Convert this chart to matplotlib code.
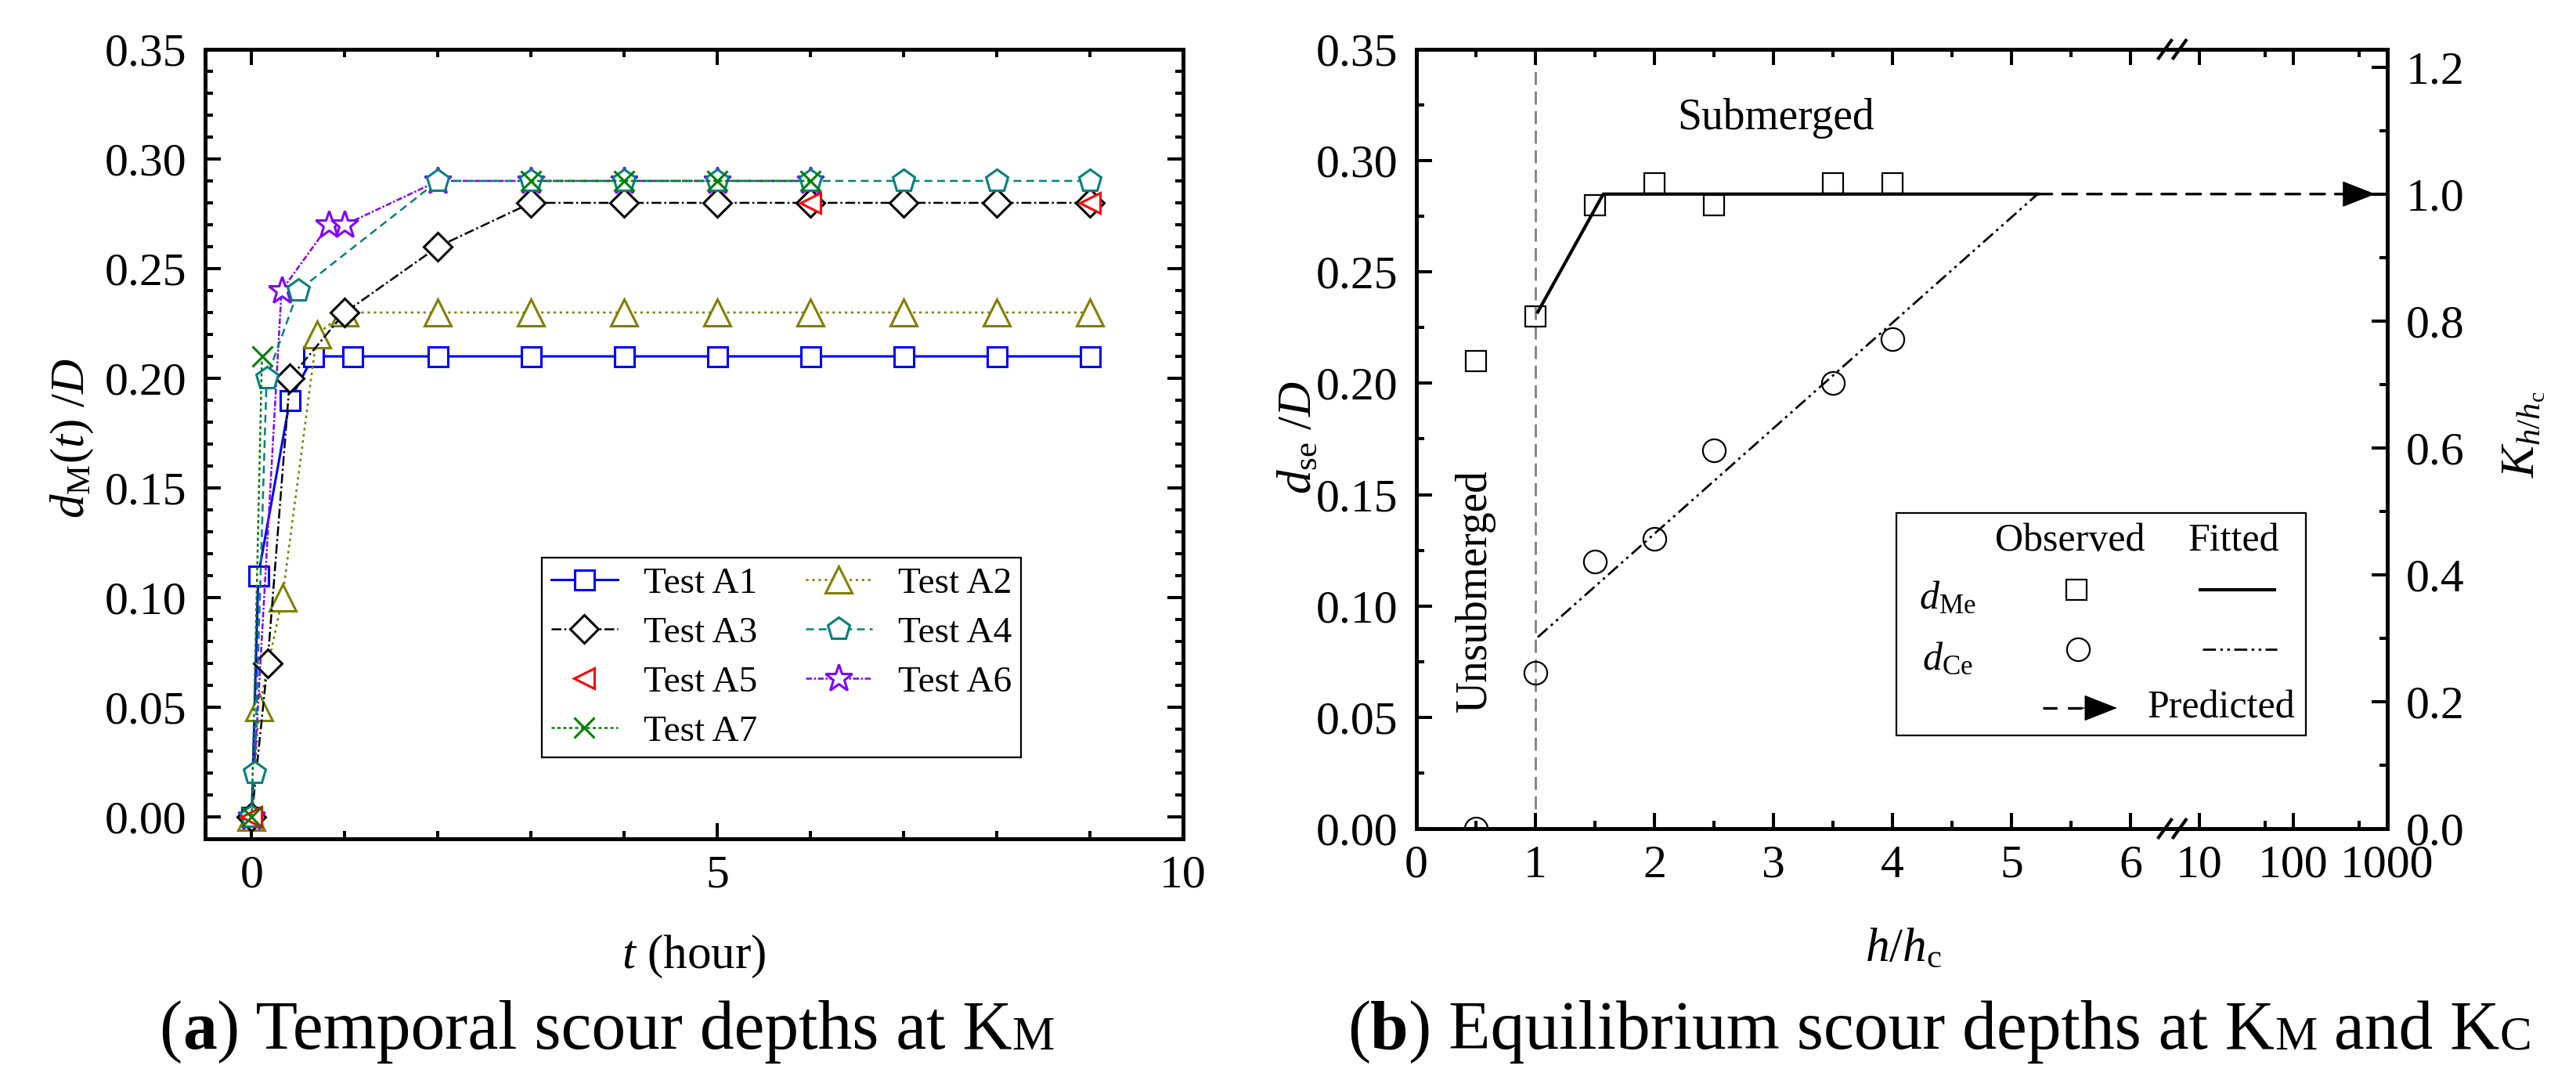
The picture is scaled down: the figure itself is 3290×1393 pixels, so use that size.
import numpy as np
import matplotlib
matplotlib.use('Agg')
import matplotlib.pyplot as plt
from matplotlib.ticker import MultipleLocator, FixedLocator, FuncFormatter, FormatStrFormatter
from matplotlib.offsetbox import TextArea, HPacker, AnchoredOffsetbox
from matplotlib.lines import Line2D
from matplotlib.patches import Rectangle, FancyArrowPatch

plt.rcParams['font.family'] = ['Liberation Serif', 'DejaVu Serif']
plt.rcParams['mathtext.fontset'] = 'custom'
plt.rcParams['mathtext.rm'] = 'Liberation Serif'
plt.rcParams['mathtext.it'] = 'Liberation Serif:italic'
plt.rcParams['mathtext.bf'] = 'Liberation Serif:bold'

# ---- (a) temporal scour depth d_M(t)/D, t in hours ----
t_a1 = [0, 0.07, 0.41, 0.66, 1.08, 2, 3, 4, 5, 6, 7, 8, 9]
d_a1 = [0, 0.11, 0.19, 0.21, 0.21, 0.21, 0.21, 0.21, 0.21, 0.21, 0.21, 0.21, 0.21]
t_a2 = [0, 0.08, 0.33, 0.70, 1, 2, 3, 4, 5, 6, 7, 8, 9]
d_a2 = [0, 0.05, 0.10, 0.22, 0.23, 0.23, 0.23, 0.23, 0.23, 0.23, 0.23, 0.23, 0.23]
t_a3 = [0, 0.17, 0.41, 1, 2, 3, 4, 5, 6, 7, 8, 9]
d_a3 = [0, 0.07, 0.20, 0.23, 0.26, 0.28, 0.28, 0.28, 0.28, 0.28, 0.28, 0.28]
t_a4 = [0, 0.03, 0.16, 0.5, 2, 3, 4, 5, 6, 7, 8, 9]
d_a4 = [0, 0.02, 0.20, 0.24, 0.29, 0.29, 0.29, 0.29, 0.29, 0.29, 0.29, 0.29]
t_a5 = [0, 6, 9]
d_a5 = [0, 0.28, 0.28]
t_a6 = [0, 0.32, 0.83, 1, 2, 3, 4, 5, 6]
d_a6 = [0, 0.24, 0.27, 0.27, 0.29, 0.29, 0.29, 0.29, 0.29]
t_a7 = [0, 0.11, np.nan, 3, 4, 5, 6]
d_a7 = [0, 0.21, np.nan, 0.29, 0.29, 0.29, 0.29]

# ---- (b) equilibrium scour depth vs h/hc ----
h_obs = [0.5, 1, 1.5, 2, 2.5, 3.5, 4]
d_me = [0.21, 0.23, 0.28, 0.29, 0.28, 0.29, 0.29]
d_ce = [0.00, 0.07, 0.12, 0.13, 0.17, 0.20, 0.22]
h_fit_me = [1.02, 1.57, 5.22]
d_fit_me = [0.232, 0.285, 0.285]
h_fit_ce = [1.02, 5.22]
d_fit_ce = [0.086, 0.285]
h_pred = [5.22, 1000]
d_pred = [0.285, 0.285]
d_ref = 0.285  # d_se/D that corresponds to K = 1

W, H = 3291, 1393
fig = plt.figure(figsize=(W / 100, H / 100), dpi=100)


def fx(px):
    return px / W


def fy(py):
    return 1 - py / H


TICK_FS = 43
LABEL_FS = 44
HEAD = '-|>,head_length=1.4,head_width=0.55'
DASH = (0, (5.5, 4))


def style_axes(ax):
    for s in ax.spines.values():
        s.set_linewidth(3.6)
    ax.tick_params(which='both', direction='in', width=2.9, labelsize=TICK_FS)
    ax.tick_params(which='major', length=14.5)
    ax.tick_params(which='minor', length=7)
    ax.tick_params(axis='y', pad=17)
    ax.tick_params(axis='x', pad=15)


# ================= panel (a) =================
ax = fig.add_axes([fx(262), fy(1071), fx(1511) - fx(262), fy(63) - fy(1071)])
style_axes(ax)
ax.tick_params(which='both', top=True, right=True)

mk = dict(mfc='white', mew=2.2)
l1, = ax.plot(t_a1, d_a1, color='#0000FF', ls='-', lw=2.2, marker='s', ms=18, mec='#0000FF', **mk)
l2, = ax.plot(t_a2, d_a2, color='#808000', ls=(0, (1.2, 1.8)), lw=1.9, marker='^', ms=25, mec='#808000', **mk)
l3, = ax.plot(t_a3, d_a3, color='black', ls=(0, (5, 1.5, 1, 1.5)), lw=1.8, marker='D', ms=18, mec='black', **mk)
l6, = ax.plot(t_a6, d_a6, color='#8000FF', ls=(0, (3, 1, 1, 1)), lw=1.8, marker='*', ms=26, mec='#8000FF', **mk)
l4, = ax.plot(t_a4, d_a4, color='#008080', ls=(0, (4, 2.5)), lw=1.8, marker='p', ms=21, mec='#008080', **mk)
l5, = ax.plot(t_a5, d_a5, color='red', ls='none', marker='<', ms=19, mec='red', **mk)
l7, = ax.plot(t_a7, d_a7, color='#008000', ls=(0, (1.6, 1.4)), lw=1.8, marker='x', ms=19, mec='#008000', **mk)

ax.set_xlim(-0.5, 10)
ax.set_ylim(-0.01, 0.35)
ax.xaxis.set_major_locator(FixedLocator([0, 5, 10]))
ax.xaxis.set_minor_locator(MultipleLocator(1))
ax.yaxis.set_major_locator(MultipleLocator(0.05))
ax.yaxis.set_minor_locator(MultipleLocator(0.01))
ax.yaxis.set_major_formatter(FormatStrFormatter('%.2f'))

leg = ax.legend(handles=[l1, l3, l5, l7, l2, l4, l6],
                labels=['Test A1', 'Test A3', 'Test A5', 'Test A7', 'Test A2', 'Test A4', 'Test A6'],
                ncol=2, loc='upper left', bbox_to_anchor=(fx(692), fy(712)),
                bbox_transform=fig.transFigure, fontsize=34, fancybox=False,
                edgecolor='black', framealpha=1, handlelength=1.8, handletextpad=0.7,
                columnspacing=1.3, labelspacing=0.42, borderpad=0.25, borderaxespad=0)
leg.get_frame().set_linewidth(1.6)

fig.text(fx(92), fy(560), r'$d_{\mathrm{M}}(t)\ /D$', fontsize=LABEL_FS, rotation=90,
         ha='center', va='center')
fig.text(fx(886), fy(1221), r'$t$ (hour)', fontsize=LABEL_FS, ha='center', va='center')

# ================= panel (b) =================
BRK, U10, DEC = 6.35, 6.579, 0.7895


def fwd(x):
    x = np.asarray(x, dtype=float)
    lg = np.log10(np.clip(x, 1e-9, None))
    mid = BRK + (x - BRK) * (U10 - BRK) / (10 - BRK)
    return np.where(x <= BRK, x, np.where(x < 10, mid, U10 + DEC * (lg - 1)))


def inv(u):
    u = np.asarray(u, dtype=float)
    mid = BRK + (u - BRK) * (10 - BRK) / (U10 - BRK)
    lg = np.clip((u - U10) / DEC + 1, -20, 20)
    return np.where(u <= BRK, u, np.where(u < U10, mid, 10 ** lg))


axb = fig.add_axes([fx(1809), fy(1058), fx(3049) - fx(1809), fy(63) - fy(1058)])
axb.set_xscale('function', functions=(fwd, inv))
ax2 = axb.twinx()
style_axes(axb)
style_axes(ax2)
axb.tick_params(which='both', top=True, right=False)
ax2.tick_params(which='both', left=False, right=True)

axb.axvline(1, color='#808080', lw=2, ls=(0, (6, 3)), zorder=1)
axb.plot(h_fit_me, d_fit_me, color='black', lw=3, zorder=2)
axb.plot(h_fit_ce, d_fit_ce, color='black', lw=2, ls=(0, (6, 2, 1.2, 2, 1.2, 2)), zorder=2)
axb.plot(h_obs, d_me, ls='none', marker='s', ms=19, mfc='none', mec='black', mew=1.6, zorder=3)
axb.plot(h_obs, d_ce, ls='none', marker='o', ms=21, mfc='none', mec='black', mew=1.6, zorder=3)
# predicted: dashed shaft + solid head
axb.annotate('', xy=(h_pred[1], d_pred[1]), xytext=(h_pred[0], d_pred[0]),
             annotation_clip=False,
             arrowprops=dict(arrowstyle='-', color='black', lw=2.4, ls=DASH,
                             shrinkA=0, shrinkB=30))
axb.annotate('', xy=(h_pred[1], d_pred[1]), xytext=(-40, 0), textcoords='offset points',
             annotation_clip=False,
             arrowprops=dict(arrowstyle=HEAD, color='black', lw=1, mutation_scale=20,
                             shrinkA=0, shrinkB=11))

axb.text(3.02, 0.319, 'Submerged', fontsize=40, ha='center', va='center')
axb.text(0.49, 0.107, 'Unsubmerged', fontsize=40, ha='center', va='center', rotation=90)

axb.set_xlim(0, 1000)
axb.set_ylim(0, 0.35)
ax2.set_ylim(0, 0.35 / d_ref)
axb.xaxis.set_major_locator(FixedLocator([0, 1, 2, 3, 4, 5, 6, 10, 100, 1000]))
axb.xaxis.set_minor_locator(FixedLocator([0.5, 1.5, 2.5, 3.5, 4.5, 5.5, 50, 500]))
axb.xaxis.set_major_formatter(FuncFormatter(lambda v, p: f'{v:g}'))
axb.yaxis.set_major_locator(MultipleLocator(0.05))
axb.yaxis.set_minor_locator(MultipleLocator(0.025))
axb.yaxis.set_major_formatter(FormatStrFormatter('%.2f'))
ax2.yaxis.set_major_locator(MultipleLocator(0.2))
ax2.yaxis.set_minor_locator(MultipleLocator(0.1))
ax2.yaxis.set_major_formatter(FormatStrFormatter('%.1f'))

# axis break marks
for xc in (0.771, 0.786):
    for yc in (0, 1):
        axb.plot([xc - 0.0075, xc + 0.0075], [yc - 0.013, yc + 0.013], color='black', lw=3,
                 transform=axb.transAxes, clip_on=False, solid_capstyle='butt', zorder=5)

fig.text(fx(1659), fy(559), r'$d_{\mathrm{se}}\ /D$', fontsize=LABEL_FS, rotation=90,
         ha='center', va='center')
fig.text(fx(3223), fy(555), r'$K_{h/h_{\mathrm{c}}}$', fontsize=LABEL_FS, rotation=90,
         ha='center', va='center')
fig.text(fx(2431), fy(1212), r'$h/h_{\mathrm{c}}$', fontsize=LABEL_FS, ha='center', va='center')

# custom legend of panel (b)
fig.add_artist(Rectangle((fx(2422), fy(939)), fx(2945) - fx(2422), fy(655) - fy(939),
                         transform=fig.transFigure, facecolor='white', edgecolor='black',
                         lw=1.6, zorder=1))
LEG_FS = 36
fig.text(fx(2644), fy(691), 'Observed', fontsize=LEG_FS, ha='center', va='center')
fig.text(fx(2853), fy(691), 'Fitted', fontsize=LEG_FS, ha='center', va='center')
fig.text(fx(2487), fy(765), r'$d_{\mathrm{Me}}$', fontsize=LEG_FS, ha='center', va='center')
fig.text(fx(2487), fy(843), r'$d_{\mathrm{Ce}}$', fontsize=LEG_FS, ha='center', va='center')
fig.add_artist(Line2D([fx(2652)], [fy(753)], marker='s', ms=19, mfc='none', mec='black', mew=1.6,
                      transform=fig.transFigure, zorder=3))
fig.add_artist(Line2D([fx(2654)], [fy(829)], marker='o', ms=21, mfc='none', mec='black', mew=1.6,
                      transform=fig.transFigure, zorder=3))
fig.add_artist(Line2D([fx(2810), fx(2905)], [fy(753), fy(753)], color='black', lw=3,
                      transform=fig.transFigure, zorder=3))
fig.add_artist(Line2D([fx(2813), fx(2908)], [fy(829), fy(829)], color='black', lw=2,
                      ls=(0, (6, 2, 1.2, 2, 1.2, 2)), transform=fig.transFigure, zorder=3))
fig.add_artist(Line2D([fx(2609), fx(2670)], [fy(904), fy(904)], color='black', lw=2.4,
                      ls=DASH, transform=fig.transFigure, zorder=3))
fig.add_artist(FancyArrowPatch((fx(2650), fy(904)), (fx(2704), fy(904)),
                               transform=fig.transFigure, arrowstyle=HEAD, mutation_scale=20,
                               color='black', lw=1, shrinkA=0, shrinkB=0, zorder=3))
fig.text(fx(2837), fy(904), 'Predicted', fontsize=LEG_FS, ha='center', va='center')


# ================= captions =================
def caption(parts, x, y):
    boxes = [TextArea(s, textprops=dict(fontsize=fs, fontweight=fw)) for s, fs, fw in parts]
    pack = HPacker(children=boxes, align='baseline', pad=0, sep=0)
    ab = AnchoredOffsetbox(loc='center', child=pack, bbox_to_anchor=(x, y),
                           bbox_transform=fig.transFigure, frameon=False, pad=0, borderpad=0)
    fig.add_artist(ab)


CAP, SML = 63, 44
caption([('(', CAP, 'normal'), ('a', CAP, 'bold'),
         (') Temporal scour depths at K', CAP, 'normal'), ('M', SML, 'normal')],
        fx(775), fy(1318))
caption([('(', CAP, 'normal'), ('b', CAP, 'bold'),
         (') Equilibrium scour depths at K', CAP, 'normal'), ('M', SML, 'normal'),
         (' and K', CAP, 'normal'), ('C', SML, 'normal')],
        fx(2477), fy(1318))

fig.savefig('out.png', dpi=100)
